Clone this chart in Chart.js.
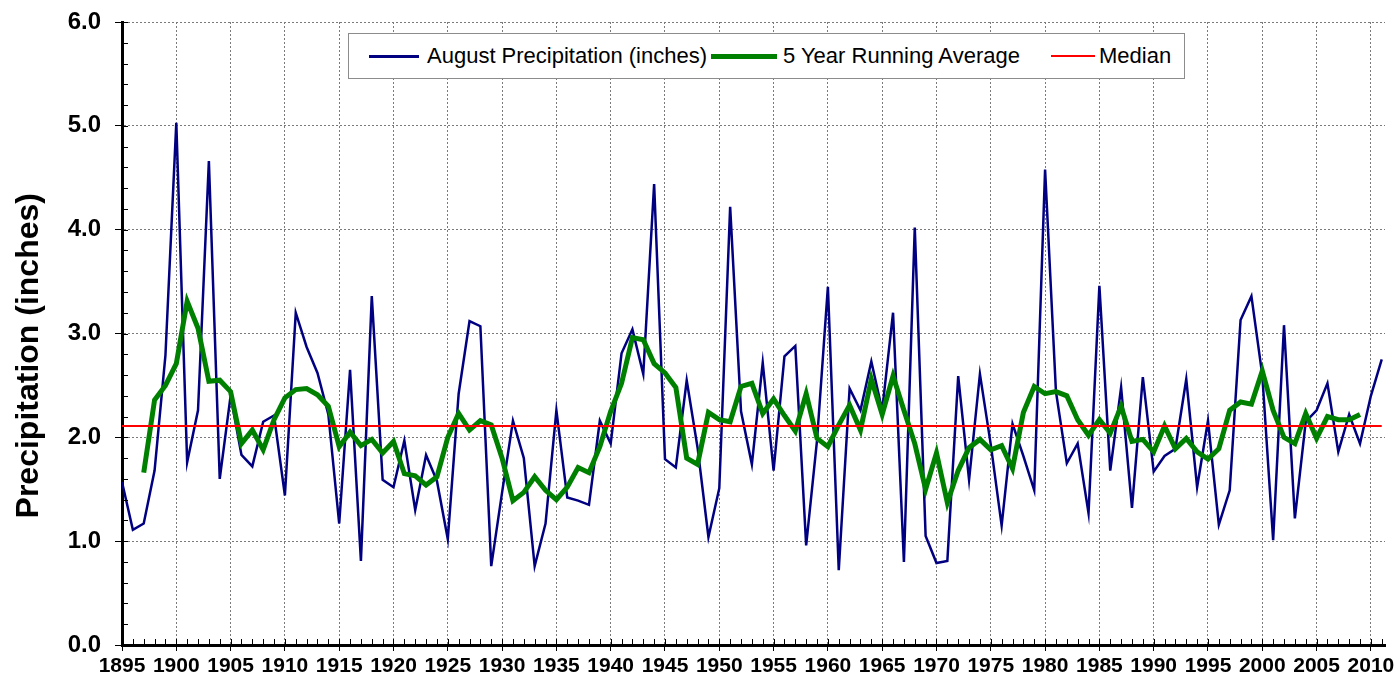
<!DOCTYPE html>
<html>
<head>
<meta charset="utf-8">
<title>August Precipitation</title>
<script src="https://cdn.jsdelivr.net/npm/chart.js@4.4.0/dist/chart.umd.min.js"></script>
<style>
  body { margin: 0; background: #fff; font-family: "Liberation Sans", Arial, sans-serif; }
  #wrap { position: relative; width: 1397px; height: 678px; }
  #leyenda { position: absolute; left: 348px; top: 33px; width: 837px; height: 46px; box-sizing: border-box;
             border: 1px solid #8c8c8c; background: #fff; }
  .txt { position: absolute; top: 0; line-height: 44px; font-size: 22px; color: #000; white-space: nowrap; }
  .muestra { position: absolute; }
</style>
</head>
<body>
<div id="wrap">
  <canvas id="grafico" width="1397" height="678"></canvas>
  <div id="leyenda">
    <span class="muestra" style="left:20px; top:21px; width:50px; height:3px; background:#000080;"></span>
    <span class="txt" style="left:78px;">August Precipitation (inches)</span>
    <span class="muestra" style="left:362px; top:20px; width:66px; height:5px; background:#008000;"></span>
    <span class="txt" style="left:434px;">5 Year Running Average</span>
    <span class="muestra" style="left:702px; top:21px; width:44px; height:2px; background:#ff0000;"></span>
    <span class="txt" style="left:750px;">Median</span>
  </div>
</div>
<script>
const years = [1895, 1896, 1897, 1898, 1899, 1900, 1901, 1902, 1903, 1904,
  1905, 1906, 1907, 1908, 1909, 1910, 1911, 1912, 1913, 1914,
  1915, 1916, 1917, 1918, 1919, 1920, 1921, 1922, 1923, 1924,
  1925, 1926, 1927, 1928, 1929, 1930, 1931, 1932, 1933, 1934,
  1935, 1936, 1937, 1938, 1939, 1940, 1941, 1942, 1943, 1944,
  1945, 1946, 1947, 1948, 1949, 1950, 1951, 1952, 1953, 1954,
  1955, 1956, 1957, 1958, 1959, 1960, 1961, 1962, 1963, 1964,
  1965, 1966, 1967, 1968, 1969, 1970, 1971, 1972, 1973, 1974,
  1975, 1976, 1977, 1978, 1979, 1980, 1981, 1982, 1983, 1984,
  1985, 1986, 1987, 1988, 1989, 1990, 1991, 1992, 1993, 1994,
  1995, 1996, 1997, 1998, 1999, 2000, 2001, 2002, 2003, 2004,
  2005, 2006, 2007, 2008, 2009, 2010, 2011];

// lluvia de agosto (pulgadas)
const precip = [1.57, 1.11, 1.17, 1.68, 2.79, 5.03, 1.76, 2.26, 4.66, 1.60,
  2.40, 1.83, 1.72, 2.15, 2.21, 1.44, 3.20, 2.87, 2.62, 2.22,
  1.17, 2.65, 0.81, 3.36, 1.59, 1.52, 1.97, 1.30, 1.83, 1.58,
  1.02, 2.42, 3.12, 3.07, 0.76, 1.47, 2.16, 1.80, 0.76, 1.17,
  2.26, 1.42, 1.39, 1.35, 2.16, 1.94, 2.81, 3.04, 2.61, 4.44,
  1.79, 1.71, 2.55, 1.90, 1.04, 1.51, 4.22, 2.25, 1.74, 2.72,
  1.68, 2.78, 2.88, 0.96, 1.97, 3.45, 0.72, 2.47, 2.26, 2.73,
  2.26, 3.20, 0.80, 4.02, 1.05, 0.79, 0.81, 2.59, 1.59, 2.61,
  1.93, 1.15, 2.13, 1.82, 1.49, 4.58, 2.44, 1.75, 1.94, 1.27,
  3.46, 1.68, 2.48, 1.32, 2.58, 1.67, 1.82, 1.89, 2.56, 1.52,
  2.16, 1.16, 1.49, 3.13, 3.36, 2.60, 1.01, 3.08, 1.22, 2.15,
  2.26, 2.52, 1.86, 2.22, 1.94, 2.40, 2.75];

// promedio movil de 5 años, 1897 a 2009
const avgYears = years.slice(2, 115);
const promedio = [1.66, 2.36, 2.50, 2.71, 3.31, 3.05, 2.54, 2.55,
  2.44, 1.94, 2.07, 1.88, 2.17, 2.38, 2.46, 2.47, 2.41, 2.30,
  1.91, 2.05, 1.92, 1.98, 1.85, 1.96, 1.65, 1.63, 1.54, 1.62,
  2.00, 2.23, 2.07, 2.16, 2.12, 1.80, 1.39, 1.47, 1.62, 1.49,
  1.40, 1.52, 1.71, 1.66, 1.91, 2.25, 2.52, 2.96, 2.94, 2.71,
  2.62, 2.48, 1.80, 1.74, 2.24, 2.17, 2.15, 2.49, 2.52, 2.23,
  2.37, 2.21, 2.06, 2.42, 1.99, 1.91, 2.12, 2.31, 2.07, 2.56,
  2.22, 2.59, 2.26, 1.94, 1.50, 1.85, 1.37, 1.68, 1.90, 1.98,
  1.88, 1.92, 1.70, 2.24, 2.49, 2.42, 2.44, 2.40, 2.17, 2.02,
  2.17, 2.04, 2.30, 1.96, 1.98, 1.86, 2.11, 1.89, 1.99, 1.86,
  1.79, 1.89, 2.26, 2.34, 2.32, 2.64, 2.26, 2.00, 1.94, 2.23,
  1.99, 2.20, 2.17, 2.17, 2.22];

const mediana = 2.11;

const xTicks = [1895, 1900, 1905, 1910, 1915, 1920, 1925, 1930, 1935, 1940,
  1945, 1950, 1955, 1960, 1965, 1970, 1975, 1980, 1985, 1990,
  1995, 2000, 2005, 2010];
const yTicks = [0, 1, 2, 3, 4, 5, 6];
const yTickLabels = ['0.0', '1.0', '2.0', '3.0', '4.0', '5.0', '6.0'];

const fuente = '"Liberation Sans", Arial, sans-serif';

// marcas cortas hacia adentro (cada año y cada 0.2)
const marcasMenores = {
  id: 'marcasMenores',
  afterDraw(chart) {
    const { ctx, chartArea, scales: { x, y } } = chart;
    ctx.save();
    ctx.strokeStyle = '#000';
    ctx.lineWidth = 1;
    ctx.beginPath();
    for (let a = years[0]; a <= years[years.length - 1]; a++) {
      const px = Math.round(x.getPixelForValue(a)) + 0.5;
      ctx.moveTo(px, chartArea.bottom);
      ctx.lineTo(px, chartArea.bottom - 6);
    }
    for (let k = 0; k <= 30; k++) {
      const py = Math.round(y.getPixelForValue(k * 0.2)) + 0.5;
      ctx.moveTo(chartArea.left, py);
      ctx.lineTo(chartArea.left + 6, py);
    }
    ctx.stroke();
    ctx.restore();
  }
};

new Chart(document.getElementById('grafico'), {
  type: 'line',
  data: {
    datasets: [
      {
        label: 'August Precipitation (inches)',
        data: years.map((a, i) => ({ x: a, y: precip[i] })),
        borderColor: '#000080',
        borderWidth: 2.5,
        pointRadius: 0,
        tension: 0,
        order: 3
      },
      {
        label: '5 Year Running Average',
        data: avgYears.map((a, i) => ({ x: a, y: promedio[i] })),
        borderColor: '#008000',
        borderWidth: 5,
        pointRadius: 0,
        tension: 0,
        order: 2
      },
      {
        label: 'Median',
        data: [{ x: years[0], y: mediana }, { x: years[years.length - 1], y: mediana }],
        borderColor: '#ff0000',
        borderWidth: 2,
        pointRadius: 0,
        order: 1
      }
    ]
  },
  options: {
    responsive: false,
    animation: false,
    layout: { padding: { top: 22, right: 12, left: 0, bottom: 0 } },
    plugins: {
      legend: { display: false },
      tooltip: { enabled: false }
    },
    scales: {
      x: {
        type: 'linear',
        min: 1895,
        max: 2011.3,
        afterBuildTicks: s => { s.ticks = xTicks.map(v => ({ value: v })); },
        afterFit: s => { s.height = 33; s.paddingLeft = 0; s.paddingRight = 0; },
        ticks: {
          autoSkip: false,
          maxRotation: 0,
          callback: v => String(v),
          color: '#000',
          padding: 3,
          font: { family: fuente, size: 21, weight: 'bold' }
        },
        grid: { color: '#7a7a7a', lineWidth: 1, tickLength: 6, tickColor: '#000', tickWidth: 1 },
        border: { color: '#000', width: 3, dash: [2, 2] }
      },
      y: {
        min: 0,
        max: 6,
        afterBuildTicks: s => { s.ticks = yTicks.map(v => ({ value: v })); },
        afterFit: s => { s.width = 122; s.paddingTop = 0; s.paddingBottom = 0; },
        ticks: {
          callback: (v, i) => yTickLabels[i],
          color: '#000',
          padding: 14,
          font: { family: fuente, size: 24, weight: 'bold' }
        },
        grid: { color: '#7a7a7a', lineWidth: 1, tickLength: 7, tickColor: '#000', tickWidth: 1 },
        border: { color: '#000', width: 3, dash: [2, 2] },
        title: {
          display: true,
          text: 'Precipitation (inches)     ',
          color: '#000',
          padding: { top: 10, bottom: 0 },
          font: { family: fuente, size: 32, weight: 'bold' }
        }
      }
    }
  },
  plugins: [marcasMenores]
});
</script>
</body>
</html>
